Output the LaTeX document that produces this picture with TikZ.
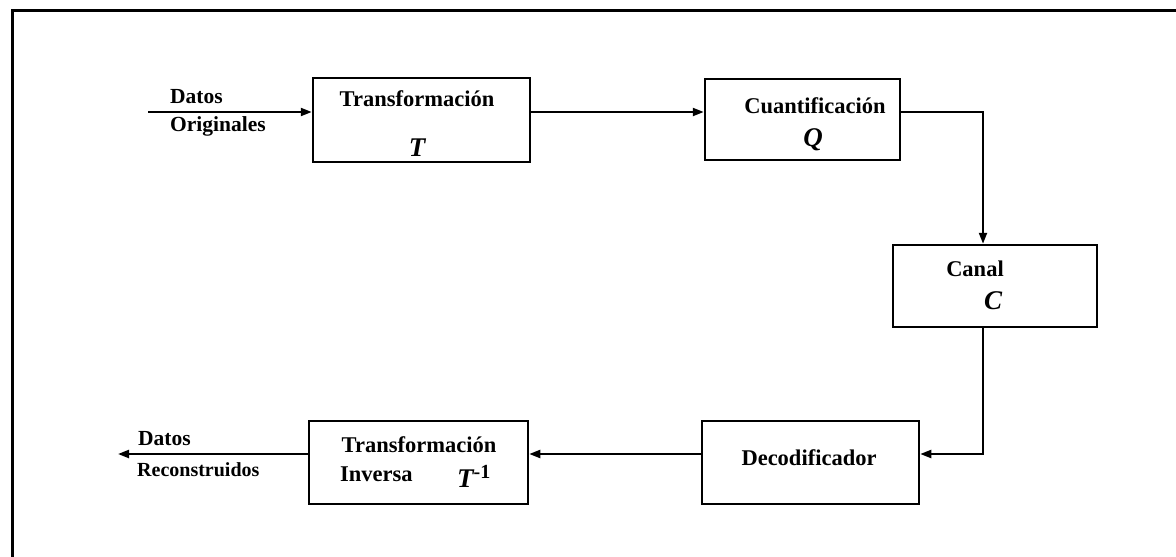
\documentclass[tikz,border=0pt]{standalone}
\usepackage{fontspec}
\setmainfont{Liberation Serif}
\usetikzlibrary{arrows.meta}
\begin{document}
\begin{tikzpicture}[x=1pt,y=-1pt,
  blk/.style={draw,line width=2.5pt,rectangle,inner sep=0pt},
  lbl/.style={font=\fontsize{22.5}{24}\selectfont\bfseries,inner sep=0pt},
  side/.style={font=\fontsize{21.5}{23}\selectfont\bfseries,inner sep=0pt,anchor=west},
  sym/.style={font=\fontsize{27}{29}\selectfont\bfseries\itshape,inner sep=0pt},
  flow/.style={line width=2.2pt,-{Triangle[length=11pt,width=8pt]}}]
\useasboundingbox (0,0) rectangle (1176,557);
% frame
\draw[line width=3pt] (1176,10) -- (12,10) -- (12,557);
% blocks
\node[blk,minimum width=217pt,minimum height=84pt] (tb) at (421.5,120) {};
\node[blk,minimum width=195pt,minimum height=81pt] (qb) at (802.5,119.5) {};
\node[blk,minimum width=204pt,minimum height=82pt] (cb) at (995,286) {};
\node[blk,minimum width=217pt,minimum height=83pt] (db) at (810.5,462.5) {};
\node[blk,minimum width=219pt,minimum height=83pt] (ib) at (418.5,462.5) {};
% block texts
\node[lbl] (tt) at (417,99) {Transformación};
\node[sym] (ts) at (417,148) {T};
\node[lbl] (qt) at (815,106) {Cuantificación};
\node[sym] (qs) at (813,140) {Q};
\node[lbl] (ct) at (975,269) {Canal};
\node[sym] (cs) at (993,301) {C};
\node[lbl] (dt) at (809,458) {Decodificador};
\node[lbl] (it) at (419,445) {Transformación};
\node[lbl,anchor=west] (iv) at (340,474) {Inversa};
\node[sym,anchor=west] (is) at (457,476) {T\textsuperscript{\fontsize{20}{22}\selectfont\upshape -1}};
% input and output labels
\coordinate (in) at (148,112);
\coordinate (out) at (118,454);
\node[side] (d1) at (170,97) {Datos};
\node[side] (o1) at (170,126) {Originales};
\node[side] (d2) at (138,439) {Datos};
\node[side,font=\fontsize{20}{22}\selectfont\bfseries] (r2) at (137,470) {Reconstruidos};
% connectors
\coordinate (qc) at (983,112);
\coordinate (cd) at (983,454);
\draw[flow] (in) -- (tb.west |- in);
\draw[flow] (tb.east |- in) -- (qb.west |- in);
\draw[flow] (qb.east |- qc) -- (qc) -- (cb.north -| qc);
\draw[flow] (cb.south -| cd) -- (cd) -- (db.east |- cd);
\draw[flow] (db.west |- cd) -- (ib.east |- cd);
\draw[flow] (ib.west |- out) -- (out);
\end{tikzpicture}
\end{document}
